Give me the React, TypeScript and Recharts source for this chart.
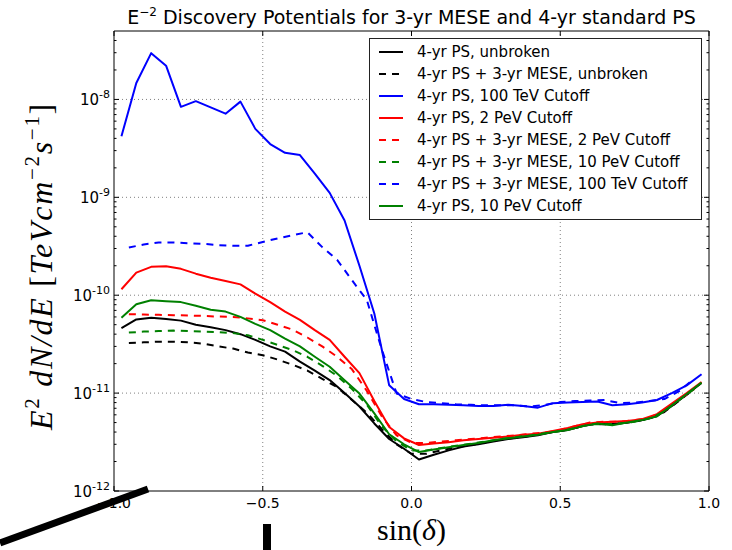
import { Legend, Line, LineChart, ReferenceArea, ReferenceLine, XAxis, YAxis } from 'recharts';

// sin(declination) bin centres
const xSolid = [
  -0.975, -0.925, -0.875, -0.825, -0.775, -0.725, -0.675, -0.625, -0.575, -0.525,
  -0.475, -0.425, -0.375, -0.325, -0.275, -0.225, -0.175, -0.125, -0.075, -0.025,
  0.025, 0.075, 0.125, 0.175, 0.225, 0.275, 0.325, 0.375, 0.425, 0.475,
  0.525, 0.575, 0.625, 0.675, 0.725, 0.775, 0.825, 0.875, 0.925, 0.975,
];
const xDashed = [
  -0.95, -0.9, -0.85, -0.8, -0.75, -0.7, -0.65, -0.6, -0.55, -0.5,
  -0.45, -0.4, -0.35, -0.3, -0.25, -0.2, -0.15, -0.1, -0.05, 0,
  0.05, 0.1, 0.15, 0.2, 0.25, 0.3, 0.35, 0.4, 0.45, 0.5,
  0.55, 0.6, 0.65, 0.7, 0.75, 0.8, 0.85, 0.9, 0.95,
];

// E^2 dN/dE discovery potentials [TeV cm^-2 s^-1]
const psUnbroken = [
  4.6e-11, 5.65e-11, 5.9e-11, 5.7e-11, 5.5e-11, 5.0e-11, 4.7e-11, 4.4e-11, 4.0e-11, 3.5e-11,
  3.0e-11, 2.65e-11, 2.1e-11, 1.7e-11, 1.36e-11, 1.0e-11, 7.3e-12, 4.9e-12, 3.4e-12, 2.7e-12,
  2.1e-12, 2.35e-12, 2.6e-12, 2.85e-12, 3.0e-12, 3.2e-12, 3.4e-12, 3.55e-12, 3.7e-12, 4.0e-12,
  4.2e-12, 4.6e-12, 4.9e-12, 4.8e-12, 5.0e-12, 5.3e-12, 5.8e-12, 7.4e-12, 9.7e-12, 1.27e-11,
];
const mesePsUnbroken = [
  3.25e-11, 3.3e-11, 3.35e-11, 3.35e-11, 3.3e-11, 3.2e-11, 3.0e-11, 2.85e-11, 2.6e-11, 2.44e-11,
  2.2e-11, 1.95e-11, 1.7e-11, 1.4e-11, 1.15e-11, 8.5e-12, 6.3e-12, 4.3e-12, 3.0e-12, 2.4e-12,
  2.4e-12, 2.6e-12, 2.8e-12, 2.95e-12, 3.15e-12, 3.35e-12, 3.5e-12, 3.65e-12, 3.9e-12, 4.1e-12,
  4.4e-12, 4.8e-12, 4.8e-12, 4.9e-12, 5.1e-12, 5.5e-12, 6.4e-12, 8.4e-12, 1.1e-11,
];
const ps100TeV = [
  4.2e-9, 1.47e-8, 2.97e-8, 2.21e-8, 8.4e-9, 9.6e-9, 8.3e-9, 7.15e-9, 9.5e-9, 5.0e-9,
  3.5e-9, 2.85e-9, 2.7e-9, 1.75e-9, 1.11e-9, 5.8e-10, 2.0e-10, 6.5e-11, 1.2e-11, 8.7e-12,
  7.7e-12, 7.7e-12, 7.6e-12, 7.5e-12, 7.4e-12, 7.4e-12, 7.6e-12, 7.4e-12, 7.1e-12, 7.9e-12,
  8.0e-12, 8.1e-12, 8.2e-12, 7.5e-12, 7.7e-12, 8.0e-12, 8.5e-12, 1.0e-11, 1.2e-11, 1.56e-11,
];
const ps2PeV = [
  1.15e-10, 1.7e-10, 1.95e-10, 1.98e-10, 1.86e-10, 1.66e-10, 1.51e-10, 1.4e-10, 1.29e-10, 1.04e-10,
  8.5e-11, 6.8e-11, 5.6e-11, 4.4e-11, 3.5e-11, 2.35e-11, 1.6e-11, 8.3e-12, 4.5e-12, 3.45e-12,
  2.95e-12, 3.05e-12, 3.15e-12, 3.3e-12, 3.4e-12, 3.5e-12, 3.6e-12, 3.75e-12, 3.85e-12, 4.1e-12,
  4.4e-12, 4.8e-12, 5.0e-12, 5.1e-12, 5.2e-12, 5.4e-12, 6.1e-12, 7.8e-12, 1.0e-11, 1.3e-11,
];
const mesePs2PeV = [
  6.4e-11, 6.35e-11, 6.3e-11, 6.25e-11, 6.2e-11, 6.15e-11, 6.05e-11, 6.0e-11, 5.8e-11, 5.55e-11,
  5.0e-11, 4.45e-11, 3.7e-11, 3.0e-11, 2.35e-11, 1.75e-11, 1.05e-11, 5.8e-12, 3.7e-12, 3.1e-12,
  3.1e-12, 3.2e-12, 3.3e-12, 3.4e-12, 3.5e-12, 3.6e-12, 3.7e-12, 3.85e-12, 3.95e-12, 4.2e-12,
  4.6e-12, 5.0e-12, 5.1e-12, 5.1e-12, 5.3e-12, 5.6e-12, 6.6e-12, 8.6e-12, 1.1e-11,
];
const mesePs10PeV = [
  4.15e-11, 4.25e-11, 4.3e-11, 4.35e-11, 4.3e-11, 4.25e-11, 4.2e-11, 4.1e-11, 3.9e-11, 3.5e-11,
  3.1e-11, 2.75e-11, 2.35e-11, 1.9e-11, 1.5e-11, 1.1e-11, 7.6e-12, 4.6e-12, 3.2e-12, 2.6e-12,
  2.6e-12, 2.75e-12, 2.9e-12, 3.05e-12, 3.2e-12, 3.4e-12, 3.55e-12, 3.7e-12, 3.9e-12, 4.1e-12,
  4.4e-12, 4.8e-12, 4.8e-12, 4.9e-12, 5.1e-12, 5.5e-12, 6.5e-12, 8.5e-12, 1.1e-11,
];
const mesePs100TeV = [
  3.07e-10, 3.3e-10, 3.45e-10, 3.45e-10, 3.4e-10, 3.35e-10, 3.25e-10, 3.2e-10, 3.2e-10, 3.5e-10,
  3.8e-10, 4.1e-10, 4.4e-10, 3.1e-10, 2.3e-10, 1.42e-10, 8.9e-11, 2.8e-11, 9.9e-12, 8.7e-12,
  8.1e-12, 7.9e-12, 7.7e-12, 7.6e-12, 7.5e-12, 7.5e-12, 7.5e-12, 7.3e-12, 7.6e-12, 8.1e-12,
  8.3e-12, 8.4e-12, 8.5e-12, 7.9e-12, 8.0e-12, 8.3e-12, 8.7e-12, 1.05e-11, 1.4e-11,
];
const ps10PeV = [
  5.9e-11, 8.1e-11, 8.9e-11, 8.7e-11, 8.5e-11, 7.8e-11, 7.1e-11, 6.8e-11, 6.0e-11, 5.1e-11,
  4.4e-11, 3.6e-11, 3.0e-11, 2.35e-11, 1.86e-11, 1.35e-11, 9.9e-12, 6.2e-12, 3.8e-12, 3.0e-12,
  2.5e-12, 2.65e-12, 2.8e-12, 2.95e-12, 3.1e-12, 3.3e-12, 3.45e-12, 3.6e-12, 3.75e-12, 4.0e-12,
  4.2e-12, 4.6e-12, 4.9e-12, 4.7e-12, 5.0e-12, 5.3e-12, 5.8e-12, 7.5e-12, 9.8e-12, 1.28e-11,
];

const xTicks = [-1, -0.5, 0, 0.5, 1];
const yMajor = [1e-12, 1e-11, 1e-10, 1e-9, 1e-8];
const yMinor = [
  2e-12, 3e-12, 4e-12, 5e-12, 6e-12, 7e-12, 8e-12, 9e-12,
  2e-11, 3e-11, 4e-11, 5e-11, 6e-11, 7e-11, 8e-11, 9e-11,
  2e-10, 3e-10, 4e-10, 5e-10, 6e-10, 7e-10, 8e-10, 9e-10,
  2e-9, 3e-9, 4e-9, 5e-9, 6e-9, 7e-9, 8e-9, 9e-9,
  2e-8, 3e-8, 4e-8,
];

const zip = (xs: number[], ys: number[]) => ys.map((y, i) => ({ x: xs[i], y }));

const series = [
  { name: '4-yr PS, unbroken', color: '#000000', dashed: false, data: zip(xSolid, psUnbroken) },
  { name: '4-yr PS + 3-yr MESE, unbroken', color: '#000000', dashed: true, data: zip(xDashed, mesePsUnbroken) },
  { name: '4-yr PS, 100 TeV Cutoff', color: '#0000ff', dashed: false, data: zip(xSolid, ps100TeV) },
  { name: '4-yr PS, 2 PeV Cutoff', color: '#ff0000', dashed: false, data: zip(xSolid, ps2PeV) },
  { name: '4-yr PS + 3-yr MESE, 2 PeV Cutoff', color: '#ff0000', dashed: true, data: zip(xDashed, mesePs2PeV) },
  { name: '4-yr PS + 3-yr MESE, 10 PeV Cutoff', color: '#008000', dashed: true, data: zip(xDashed, mesePs10PeV) },
  { name: '4-yr PS + 3-yr MESE, 100 TeV Cutoff', color: '#0000ff', dashed: true, data: zip(xDashed, mesePs100TeV) },
  { name: '4-yr PS, 10 PeV Cutoff', color: '#008000', dashed: false, data: zip(xSolid, ps10PeV) },
];

const PLOT_W = 595;
const PLOT_H = 460;
const DASH = '7 6';
const SANS = 'DejaVu Sans, Bitstream Vera Sans, sans-serif';
const SERIF = 'Liberation Serif, DejaVu Serif, serif';

const YTick = (props: any) => {
  const { x, y, payload } = props;
  const v = payload.value;
  const major = yMajor.includes(v);
  const len = major ? 5 : 2.5;
  return (
    <g>
      <line x1={x} x2={x + len} y1={y} y2={y} stroke="#000" />
      <line x1={x + PLOT_W} x2={x + PLOT_W - len} y1={y} y2={y} stroke="#000" />
      {major && (
        <text x={x - 4} y={y + 6} textAnchor="end" fontFamily={SANS} fontSize={15} fill="#000">
          10
          <tspan dy={-7} fontSize={11}>{`-${-Math.round(Math.log10(v))}`}</tspan>
        </text>
      )}
    </g>
  );
};

const XTick = (props: any) => {
  const { x, y, payload } = props;
  const v = payload.value;
  const label = v < 0 ? `\u2212${Math.abs(v).toFixed(1)}` : v.toFixed(1);
  return (
    <g>
      <line x1={x} x2={x} y1={y} y2={y - 5} stroke="#000" />
      <line x1={x} x2={x} y1={y - PLOT_H} y2={y - PLOT_H + 5} stroke="#000" />
      <text x={x} y={y + 16.5} textAnchor="middle" fontFamily={SANS} fontSize={14} fill="#000">
        {label}
      </text>
    </g>
  );
};

const XTitle = (props: any) => {
  const { viewBox } = props;
  const cx = viewBox.x + viewBox.width / 2;
  return (
    <text x={cx} y={viewBox.y + 49} textAnchor="middle" fontFamily={SERIF} fontSize={30} fill="#000">
      sin(<tspan fontStyle="italic">δ</tspan>)
    </text>
  );
};

const YTitle = (props: any) => {
  const { viewBox } = props;
  const cx = 52;
  const cy = viewBox.y + viewBox.height / 2 + 5;
  return (
    <text
      transform={`rotate(-90 ${cx} ${cy})`}
      x={cx}
      y={cy}
      textAnchor="middle"
      fontFamily={SERIF}
      fontSize={32}
      letterSpacing={1.7}
      fill="#000"
    >
      <tspan fontStyle="italic">E</tspan>
      <tspan dy={-13} fontSize={21}>2</tspan>
      <tspan dy={13} fontStyle="italic">{' dN/dE '}</tspan>
      <tspan>[</tspan>
      <tspan fontStyle="italic">TeVcm</tspan>
      <tspan dy={-13} fontSize={21}>−2</tspan>
      <tspan dy={13} fontStyle="italic">s</tspan>
      <tspan dy={-13} fontSize={21}>−1</tspan>
      <tspan dy={13}>]</tspan>
    </text>
  );
};

const LegendBox = () => (
  <div
    style={{
      width: 333,
      height: 182,
      boxSizing: 'border-box',
      border: '1px solid #222',
      background: '#fff',
      paddingTop: 2,
      fontFamily: SANS,
      fontSize: 15,
      color: '#000',
    }}
  >
    {series.map((s) => (
      <div key={s.name} style={{ display: 'flex', alignItems: 'center', height: 22, whiteSpace: 'nowrap' }}>
        <svg width={24} height={6} style={{ marginLeft: 9, marginRight: 14, flexShrink: 0 }}>
          <line x1={0} x2={24} y1={3} y2={3} stroke={s.color} strokeWidth={2} strokeDasharray={s.dashed ? DASH : undefined} />
        </svg>
        <span>{s.name}</span>
      </div>
    ))}
  </div>
);

export default function App() {
  return (
    <div style={{ position: 'absolute', left: 0, top: 0, width: 732, height: 550, background: '#fff' }}>
      <LineChart width={732} height={550} margin={{ top: 31, right: 23, bottom: 0, left: 0 }}>
        <XAxis
          dataKey="x"
          type="number"
          domain={[-1, 1]}
          ticks={xTicks}
          interval={0}
          allowDataOverflow
          axisLine={false}
          tickLine={false}
          tickSize={0}
          tickMargin={0}
          height={59}
          tick={<XTick />}
          label={<XTitle />}
        />
        <YAxis
          type="number"
          scale="log"
          domain={[1e-12, 5e-8]}
          ticks={[...yMajor, ...yMinor]}
          interval={0}
          allowDataOverflow
          axisLine={false}
          tickLine={false}
          tickSize={0}
          tickMargin={0}
          width={114}
          tick={<YTick />}
          label={<YTitle />}
        />
        {xTicks.slice(1, -1).map((v) => (
          <ReferenceLine key={`gx${v}`} x={v} stroke="#808080" strokeDasharray="1 3" />
        ))}
        {yMajor.slice(1).map((v) => (
          <ReferenceLine key={`gy${v}`} y={v} stroke="#808080" strokeDasharray="1 3" />
        ))}
        <ReferenceArea x1={-1} x2={1} y1={1e-12} y2={5e-8} fill="none" fillOpacity={0} stroke="#000" strokeWidth={1} />
        {series.map((s) => (
          <Line
            key={s.name}
            data={s.data}
            dataKey="y"
            name={s.name}
            stroke={s.color}
            strokeWidth={2}
            strokeDasharray={s.dashed ? DASH : undefined}
            strokeLinejoin="round"
            dot={false}
            activeDot={false}
            isAnimationActive={false}
          />
        ))}
        <Legend
          layout="vertical"
          align="center"
          verticalAlign="middle"
          wrapperStyle={{ left: 369, top: 38, width: 333, height: 182 }}
          content={<LegendBox />}
        />
      </LineChart>
      <svg width={732} height={550} style={{ position: 'absolute', left: 0, top: 0, pointerEvents: 'none' }}>
        <text x={411.5} y={24} textAnchor="middle" fontFamily={SANS} fontSize={19} fill="#000">
          E<tspan dy={-8} fontSize={12}>−2</tspan>
          <tspan dy={8}>{'  Discovery Potentials for 3-yr MESE and 4-yr standard PS'}</tspan>
        </text>
        <line x1={0} y1={543} x2={148} y2={489} stroke="#000" strokeWidth={7} />
        <rect x={263} y={524} width={8} height={26} fill="#000" />
      </svg>
    </div>
  );
}
